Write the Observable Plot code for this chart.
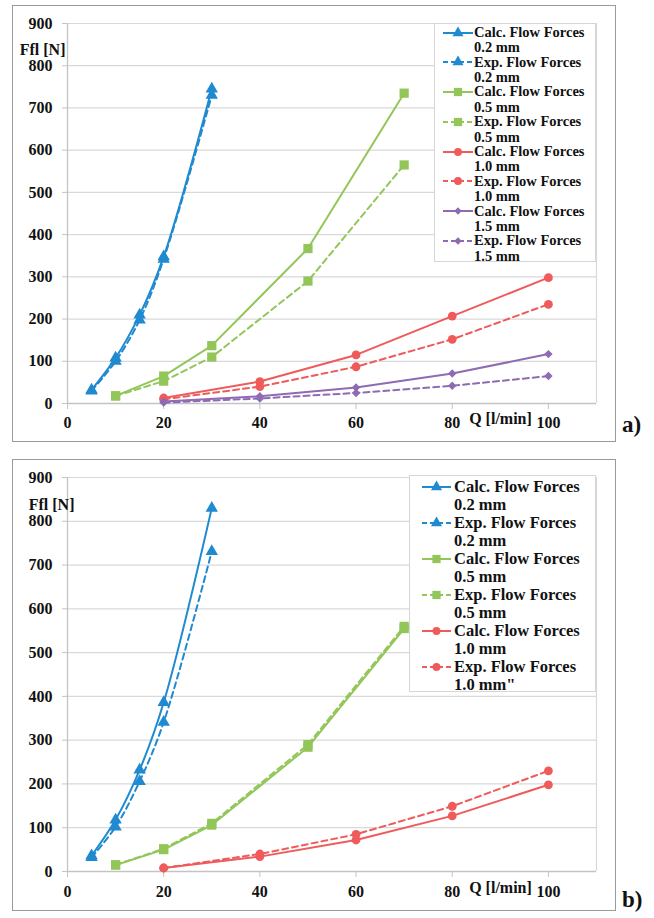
<!DOCTYPE html>
<html><head><meta charset="utf-8">
<script src="https://cdn.jsdelivr.net/npm/d3@7"></script>
<script src="https://cdn.jsdelivr.net/npm/@observablehq/plot@0.6"></script>
<style>
body{margin:0;background:#fff;}
#page{position:relative;width:654px;height:918px;overflow:hidden;font-family:"Liberation Serif","Times New Roman",serif;font-weight:bold;}
#page svg, #page svg text{font-family:"Liberation Serif","Times New Roman",serif !important;font-weight:bold;}
.box{position:absolute;border:1.5px solid #9a9a9a;box-sizing:border-box;}
.plot{position:absolute;left:0;}
.legend{position:absolute;background:#fff;border:1px solid #d6d6d6;box-sizing:border-box;}
.entry{position:relative;}
.entry svg{position:absolute;left:0;top:0;}
.entry .t{position:absolute;white-space:nowrap;color:#111;}
.tag{position:absolute;font-size:23px;color:#111;}
</style></head>
<body><div id="page"></div>
<script>
// ---- data ----
const xTicks = [0, 20, 40, 60, 80, 100];
const yTicks = [0, 100, 200, 300, 400, 500, 600, 700, 800, 900];
const q02 = [5, 10, 15, 20, 30];
const q05 = [10, 20, 30, 50, 70];
const q10 = [20, 40, 60, 80, 100];
const q15 = [20, 40, 60, 80, 100];

// panel a)
const aCalc02 = [32, 108, 210, 348, 745];
const aExp02  = [30, 100, 198, 342, 730];
const aCalc05 = [18, 65, 137, 367, 735];
const aExp05  = [18, 53, 110, 290, 565];
const aCalc10 = [13, 52, 115, 207, 298];
const aExp10  = [10, 40, 87, 152, 235];
const aCalc15 = [5, 17, 38, 71, 117];
const aExp15  = [2, 12, 25, 42, 65];

// panel b)
const bCalc02 = [36, 118, 232, 386, 830];
const bExp02  = [32, 102, 206, 341, 731];
const bCalc05 = [15, 50, 106, 284, 555];
const bExp05  = [15, 52, 110, 290, 560];
const bCalc10 = [8, 34, 72, 127, 198];
const bExp10  = [8, 40, 85, 149, 230];

const namesA = [
  ["Calc. Flow Forces", "0.2 mm"], ["Exp. Flow Forces", "0.2 mm"],
  ["Calc. Flow Forces", "0.5 mm"], ["Exp. Flow Forces", "0.5 mm"],
  ["Calc. Flow Forces", "1.0 mm"], ["Exp. Flow Forces", "1.0 mm"],
  ["Calc. Flow Forces", "1.5 mm"], ["Exp. Flow Forces", "1.5 mm"]
];
const namesB = [
  ["Calc. Flow Forces", "0.2 mm"], ["Exp. Flow Forces", "0.2 mm"],
  ["Calc. Flow Forces", "0.5 mm"], ["Exp. Flow Forces", "0.5 mm"],
  ["Calc. Flow Forces", "1.0 mm"], ["Exp. Flow Forces", "1.0 mm\""]
];

// ---- styles ----
const BLUE = "#1f8ad0", GREEN = "#93c659", RED = "#ef5a5a", PURPLE = "#8e6bb2";
const FONT = "'Liberation Serif','Times New Roman',serif";
const sty = {
  "0.2": {color: BLUE, symbol: "triangle", r: 4.6, curve: "catmull-rom"},
  "0.5": {color: GREEN, symbol: "square", r: 5.2, curve: "linear"},
  "1.0": {color: RED, symbol: "circle", r: 4.4, curve: "linear"},
  "1.5": {color: PURPLE, symbol: "diamond2", r: 3.8, curve: "linear"}
};

function mk(q, f, size, exp) { return {size, exp, pts: q.map((x, i) => ({q: x, f: f[i]}))}; }

const seriesA = [
  mk(q02, aCalc02, "0.2", false), mk(q02, aExp02, "0.2", true),
  mk(q05, aCalc05, "0.5", false), mk(q05, aExp05, "0.5", true),
  mk(q10, aCalc10, "1.0", false), mk(q10, aExp10, "1.0", true),
  mk(q15, aCalc15, "1.5", false), mk(q15, aExp15, "1.5", true)
];
const seriesB = [
  mk(q02, bCalc02, "0.2", false), mk(q02, bExp02, "0.2", true),
  mk(q05, bCalc05, "0.5", false), mk(q05, bExp05, "0.5", true),
  mk(q10, bCalc10, "1.0", false), mk(q10, bExp10, "1.0", true)
];

function panel(series, o) {
  const txt = {fontSize: 16, fontWeight: "bold", fontFamily: FONT, fill: "#111"};
  const marks = [
    Plot.gridY(yTicks, {stroke: "#d9d9d9", strokeOpacity: 1, strokeWidth: 1.2}),
    Plot.ruleX([110], {stroke: "#d9d9d9", strokeWidth: 1.2}),
    Plot.ruleX([0], {stroke: "#c4c4c4", strokeWidth: 1.3}),
    Plot.ruleY([0], {stroke: "#c4c4c4", strokeWidth: 1.3}),
    Plot.axisY(yTicks, {tickSize: 5, stroke: "#c4c4c4", tickFormat: () => "", label: null}),
    Plot.axisX(xTicks, {tickSize: 6, stroke: "#c4c4c4", tickFormat: () => "", label: null}),
    Plot.axisY(yTicks, {tickSize: 0, tickPadding: 15, label: null, ...txt}),
    Plot.axisX(xTicks, {tickSize: 0, tickPadding: o.xpad, label: null, ...txt}),
    Plot.text(["Ffl [N]"], {frameAnchor: "top-left", textAnchor: "end", dx: o.fflDx, dy: o.fflDy, ...txt}),
    Plot.text(["Q [l/min]"], {frameAnchor: "bottom-right", textAnchor: "middle", dx: -96, dy: o.qDy, ...txt})
  ];
  for (const s of series) {
    const st = sty[s.size];
    marks.push(Plot.line(s.pts, {x: "q", y: "f", stroke: st.color, strokeWidth: 2, curve: st.curve,
      strokeDasharray: s.exp ? "6,4" : null}));
  }
  for (const s of series) {
    const st = sty[s.size];
    marks.push(Plot.dot(s.pts, {x: "q", y: "f", symbol: st.symbol, r: st.r, fill: st.color, stroke: "none"}));
  }
  return Plot.plot({
    width: 654, height: o.height,
    marginLeft: 67, marginRight: 58, marginTop: o.mt, marginBottom: o.mb,
    x: {domain: [0, 110], label: null}, y: {domain: [0, 900], label: null},
    style: {fontFamily: FONT, fontWeight: "bold", fontSize: "16px", color: "#111", background: "transparent", overflow: "visible"},
    marks
  });
}

function legend(names, series, o) {
  const L = document.createElement("div");
  L.className = "legend";
  Object.assign(L.style, {left: o.left + "px", top: o.top + "px", width: o.w + "px", height: o.h + "px"});
  names.forEach((nm, i) => {
    const s = series[i], st = sty[s.size];
    const e = document.createElement("div");
    e.className = "entry";
    e.style.height = o.eh + "px";
    const sw = d3.create("svg").attr("width", o.swW + 6).attr("height", 20)
      .style("left", o.swX + "px").style("top", (o.lc - 10) + "px");
    sw.append("line").attr("x1", 1).attr("x2", o.swW).attr("y1", 10).attr("y2", 10)
      .attr("stroke", st.color).attr("stroke-width", 2).attr("stroke-dasharray", s.exp ? "5,3" : null);
    const sym = {triangle: d3.symbolTriangle, square: d3.symbolSquare, circle: d3.symbolCircle, diamond2: d3.symbolDiamond2}[st.symbol];
    sw.append("path").attr("d", d3.symbol(sym, Math.PI * st.r * st.r * 0.8)()).attr("transform", `translate(${o.swW / 2 + 0.5},10)`)
      .attr("fill", st.color);
    e.appendChild(sw.node());
    const t = document.createElement("div");
    t.className = "t";
    Object.assign(t.style, {left: o.tx + "px", top: (o.lc - o.lh / 2) + "px", fontSize: o.fs + "px", lineHeight: o.lh + "px"});
    t.innerHTML = nm[0] + "<br>" + nm[1];
    e.appendChild(t);
    L.appendChild(e);
  });
  return L;
}

const page = document.getElementById("page");
function add(el, css) { Object.assign(el.style, css); page.appendChild(el); return el; }

const boxA = add(document.createElement("div"), {left: "12px", top: "5px", width: "604px", height: "437px"}); boxA.className = "box";
const boxB = add(document.createElement("div"), {left: "12px", top: "459px", width: "604px", height: "452px"}); boxB.className = "box";

const pa = panel(seriesA, {height: 440, mt: 23, mb: 37, xpad: 13, fflDx: -2, fflDy: 20, qDy: 20});
pa.classList.add("plot"); add(pa, {top: "0px"});
const pb = panel(seriesB, {height: 450, mt: 18, mb: 38, xpad: 14, fflDx: 7, fflDy: 21, qDy: 21});
pb.classList.add("plot"); add(pb, {top: "459px"});

page.appendChild(legend(namesA, seriesA, {left: 434, top: 23, w: 162, h: 239, eh: 29.8, lc: 8.5, lh: 15.5, fs: 14.5, swX: 7, swW: 31, tx: 39}));
page.appendChild(legend(namesB, seriesB, {left: 409, top: 475, w: 187, h: 217, eh: 36, lc: 10.5, lh: 18, fs: 16.5, swX: 11, swW: 30, tx: 44}));

const ta = add(document.createElement("div"), {left: "622px", top: "412px"}); ta.className = "tag"; ta.textContent = "a)";
const tb = add(document.createElement("div"), {left: "622px", top: "887px"}); tb.className = "tag"; tb.textContent = "b)";
</script></body></html>
